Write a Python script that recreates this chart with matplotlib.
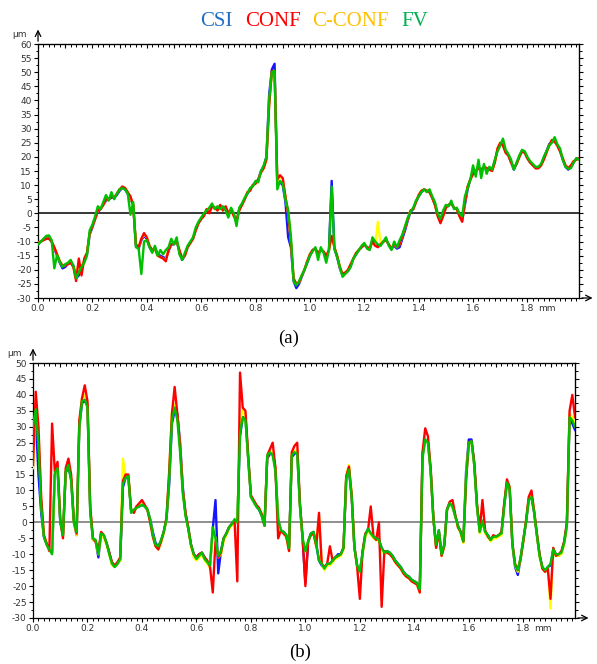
import matplotlib.pyplot as plt
import numpy as np
from matplotlib.ticker import MultipleLocator, FixedLocator, FixedFormatter
from matplotlib.transforms import blended_transform_factory

plt.rcParams['axes.unicode_minus'] = False

# profile positions (mm), one sample every 0.01 mm
x_mm = np.round(np.arange(200) * 0.01, 2)

# ---- profile (a), heights in um ----
a_fv = [-11, -10, -9, -8, -7.8, -9.5, -19.5, -14.8, -17.2, -19,
        -18, -17.5, -16.5, -18.5, -23, -21, -19, -17.5, -15, -6,
        -4, -1, 2.5, 1.5, 4, 6.5, 4.5, 7.5, 5, 7,
        8.5, 9, 8.5, 7, -0.5, 4, -12, -12.5, -21.5, -10,
        -9.5, -12, -14, -11.5, -15, -13, -14.5, -13, -12, -9,
        -11, -8.5, -14.5, -16.5, -14, -11.5, -10, -8.5, -5, -3,
        -1.5, 0, 1, 2, 3.5, 1.5, 2.5, 1.5, 2.5, 1,
        -1.5, 2, 0, -4.5, 2, 3.5, 5.5, 7, 9, 9.5,
        11.5, 11, 15, 17, 20, 40, 50, 50.5, 8.5, 11.5,
        10.5, 5, 1.2, -8, -24, -25.5, -24, -22, -20, -17.5,
        -15, -13.5, -12, -16.5, -12, -14, -17.5, -13, 9.5, -12.5,
        -15.5, -19, -22.5, -21.5, -20.5, -19, -16, -14.5, -13, -11.5,
        -10.5, -12.5, -13, -8.5, -10, -11, -11.5, -10, -8.5, -11.5,
        -13, -10, -12, -9.5, -7.5, -4.5, -1.5, 0.5, 2, 4.5,
        6, 7.5, 8.5, 7.5, 8.5, 6, 4, 0, -2, 1,
        3, 2.5, 4.5, 1.5, 2, 0, -1, 6, 9, 12,
        17, 13, 19, 12.5, 17.5, 14, 16.5, 15.5, 19, 22,
        24, 26.5, 22.5, 21, 19, 15.5, 18, 20.5, 22.5, 22,
        20, 18.5, 17.5, 16.5, 16.5, 17.5, 20, 22, 24, 25,
        27, 24.5, 23, 19, 16.5, 15.8, 16, 18, 19.5, 19]

a_conf = [-10.5, -10, -9.5, -9, -9, -10, -12, -14.5, -17, -18.5,
          -18.5, -18, -17.5, -19, -24, -16, -22, -16, -14, -7,
          -4.5, -2, 1, 1.5, 3, 5, 5, 6, 5.5, 7,
          8.5, 9.5, 9, 7.5, 6, 3, -11, -12, -9, -7,
          -8.5, -11.5, -13, -12.5, -15, -15.5, -16, -17, -13, -11,
          -10.5, -10, -13, -16, -15, -12, -10.5, -9, -6, -3.5,
          -2, -1, 1.5, 0, 2.5, 2, 1, 3, 1, 2.5,
          0, 1.5, -1, -2.5, 1, 3, 5, 7.5, 8, 10,
          10.5, 12, 14.5, 16, 19, 38, 50.5, 50, 12, 13.5,
          12.5, 6, 0, -10, -23, -25, -24.5, -22, -20, -17,
          -14.5, -13, -12.5, -14, -13, -13.5, -15, -13, -8, -12,
          -15, -19, -21.5, -21, -20, -18, -16, -14, -13, -12,
          -11, -12, -12.5, -10, -11.5, -12, -11, -10, -9.5, -11,
          -12.5, -11, -12, -11, -8, -5, -2, 1, 1.5, 4,
          6.5, 8, 8.5, 8, 7.5, 5.5, 3, -1, -3.5, -1,
          2, 3, 3.5, 2, 1.5, -1, -3, 4, 9.5, 12,
          14, 15, 16, 15.5, 16.5, 16, 15.5, 15, 18, 23,
          25, 24, 21.5, 20.5, 18, 16, 17.5, 20, 22, 21.5,
          19.5, 18, 17, 16, 16, 17, 19, 21.5, 24, 26,
          25.5, 24, 22, 19.5, 17, 16, 17, 18.5, 19, 19.5]

a_cconf = [-10.5, -10, -9.5, -9, -9, -10, -12, -14.5, -17, -18.5,
           -18.5, -18, -17.5, -19, -23.5, -17, -21, -16.5, -14, -7,
           -4.5, -2, 1, 1.5, 3, 5, 5, 6, 5.5, 7,
           8.5, 9, 9, 7.5, 5.5, 3, -11, -12, -9, -7.5,
           -8.5, -11.5, -13, -12.5, -15, -15.5, -16, -16.5, -13, -11,
           -10.5, -10, -13, -16, -15, -12, -10.5, -9, -6, -3.5,
           -2, -1, 1.5, 0.5, 2.5, 2, 1, 2.5, 1, 2.5,
           0, 1.5, -1, -2.5, 1, 3, 5, 7.5, 8, 10,
           10.5, 12, 14.5, 16, 19, 39, 50, 50, 11, 13,
           12, 5.5, 0, -10, -23, -25, -24.5, -22, -20, -17,
           -14.5, -13, -12.5, -14, -13, -13.5, -15, -13, -8, -12,
           -15, -19, -21.5, -21, -20, -18, -16, -14, -13, -12,
           -11, -12, -12.5, -10, -11.5, -3, -11, -10, -9.5, -11,
           -12.5, -11, -12, -11, -8, -5, -2, 1, 1.5, 4,
           6.5, 8, 8.5, 8, 7.5, 5.5, 3, -1, -3, -1,
           2, 3, 3.5, 2, 1.5, -1, -2.5, 4, 9.5, 12,
           14, 15, 16, 15.5, 16.5, 16, 15.5, 15, 18, 23,
           25, 24, 21.5, 20.5, 18, 16, 17.5, 20, 22, 21.5,
           19.5, 18, 17, 16, 16, 17, 19, 21.5, 24, 26,
           25.5, 24, 22, 19.5, 17, 16, 17, 18.5, 19, 19.5]

a_csi = [-11, -10, -9.5, -9, -8.5, -10, -12.5, -15, -17.5, -19.5,
         -19, -18, -17.5, -18.5, -23, -22, -19, -17, -14.5, -7.5,
         -5, -2, 0.5, 1.5, 3, 4.5, 5, 5.5, 5.5, 6.5,
         8, 9, 8.5, 7, 5, 3, -11.5, -12.5, -9.5, -8,
         -9, -12, -13.5, -12, -14.5, -15, -15.5, -16, -13.5, -11,
         -11, -10, -13.5, -16.5, -15, -12, -10.5, -9, -6, -3.5,
         -2, -0.5, 1, 1, 2.5, 2, 1.5, 2.5, 1.5, 2,
         0, 1.5, -0.5, -3, 1.5, 3, 5, 7, 8.5, 10,
         11, 12, 15, 16.5, 20, 42, 51, 53, 10, 11,
         10, 4, -8.5, -12, -24, -26.5, -25, -22.5, -20, -17.5,
         -15, -13, -12.5, -14.5, -13, -13.5, -15.5, -13, 11.5, -12.5,
         -15.5, -19.5, -22, -21, -20.5, -18.5, -16, -14.5, -13, -12,
         -11, -12, -12.5, -9.5, -11, -11.5, -11, -10, -9.5, -11,
         -12.5, -11.5, -12.5, -12, -9, -6, -2.5, 0.5, 1.5, 4,
         6, 7.5, 8.5, 8, 7.5, 5.5, 3, -0.5, -3, -0.5,
         2, 3, 3.5, 2, 1.5, -0.5, -2.5, 3, 8.5, 12,
         14, 15, 16, 15.5, 16.5, 16, 15.5, 15.5, 18.5, 22.5,
         24.5, 24.5, 21.5, 20.5, 18, 15.5, 17.5, 20, 22, 21.5,
         19.5, 18, 17, 16, 16, 17, 19.5, 22, 24.5, 25.5,
         25.5, 24, 22, 19, 16.5, 15.5, 16.5, 18, 19.5, 19.5]

# ---- profile (b), heights in um ----
b_fv = [30, 35.5, 24, 5, -4.5, -7, -8.5, -10, 15.5, 17,
        0.5, -4, 16, 18, 13, 0, -3, 30, 38, 38.5,
        36, 3, -5, -5.5, -10, -3.5, -4, -6.5, -10, -13,
        -14, -13, -11.5, 12, 14, 14.5, 3, 4, 4.5, 5,
        5.5, 5, 4, 1, -4, -7, -7.5, -5.5, -3, 1,
        14, 32, 36, 32, 22, 9, 2, -2, -7, -10,
        -11.5, -10.5, -9.5, -11.5, -12.5, -13.5, -1.5, -5, -10.5, -9,
        -5, -3.5, -1.5, -0.5, 1, 0, 28, 33, 32, 20,
        8, 6.5, 5, 4, 2, -1, 21, 22, 21, 16,
        1, -2.5, -3, -4, -8, 21, 22, 21.5, 5, -5,
        -9, -6, -3.5, -3, -7, -12, -13, -14.5, -13, -13,
        -12, -11, -10.5, -10, -8, 14, 16.5, 8, -8, -13.5,
        -15.5, -9.5, -4, -2, -3.5, -4.5, -5, -5.5, -8, -9.5,
        -9, -9.5, -10.5, -12, -13, -14, -15.5, -16.5, -17, -18,
        -18.5, -19, -21, 20, 26, 25, 16, 1, -7, -2.5,
        -10, -7, 4, 6, 5, 2, -1, -3, -6, 14,
        25, 25.5, 18, 5, -3, 0.5, -3, -4, -5.5, -4.5,
        -4.5, -4, -3.5, 5, 12.5, 10.5, -7, -13.5, -15, -11,
        -5.5, 0, 7, 8, 3, -4, -10.5, -14, -15, -14,
        -13, -8.5, -10, -10, -9.5, -6.5, -1, 33, 32, 30]

b_conf = [18, 41, 30, 8, -4, -6.5, -9, 31, 16, 19,
          1, -5, 17, 20, 15, 0.5, -3.5, 32, 39, 43,
          38, 5, -5, -6, -9, -3, -4, -6.5, -9.5, -12.5,
          -13.5, -12.5, -11, 13, 15, 15, 4, 3, 5, 6,
          7, 5.5, 4, 0, -4.5, -7.5, -8.5, -6, -3, 1.5,
          16, 34, 42.5, 34, 24, 10, 3, -1.5, -7, -10,
          -11, -10, -9.5, -11, -12, -14, -22, -6, -11, -9.5,
          -5, -3.5, -1.5, -0.5, 0.5, -18.5, 47, 36, 35, 21,
          8.5, 7, 5.5, 4.5, 2.5, -1, 21, 23, 25, 17,
          -5, -2.5, -3.5, -4.5, -9, 22, 24, 25, 6, -5,
          -20, -6, -4, -3.5, -7.5, 3, -13, -14, -13, -7.5,
          -12, -11, -10.5, -10, -8, 14.5, 17.5, 8.5, -7.5, -14,
          -24, -9, -3.5, -2.5, 5, -4.5, -5.5, 0, -26.5, -9,
          -9.5, -10, -11, -12.5, -13.5, -14.5, -16, -17, -17.5, -18.5,
          -19, -19.5, -22, 22, 29.5, 27, 17, 1.5, -8, -3,
          -10.5, -7.5, 4, 6.5, 7, 2.5, -1.5, -3, -6, 13,
          25, 25.5, 19, 6, -2.5, 7, -2.5, -4.5, -5.5, -4,
          -4.5, -4, -3, 6, 13.5, 11, -6.5, -13, -15, -11.5,
          -6, 0.5, 8, 10, 3.5, -3.5, -10, -14.5, -15.5, -14.5,
          -24, -8, -10.5, -10, -9, -6, 0, 35, 40, 33]

b_cconf = [17, 38, 28, 6, -4, -7, -8.5, -9.5, 15, 17,
           1, -4.5, 16, 19, 14, 0, -4, 31, 39, 40,
           37, 4.5, -5.5, -6, -10, -4, -5, -7, -10, -13.5,
           -14, -13, -12, 20, 14.5, 14.5, 4, 3, 5, 5.5,
           6, 5, 4, 0.5, -4, -7.5, -8.5, -6.5, -3.5, 1,
           15, 35, 37, 33, 24, 10, 2.5, -2, -7.5, -11,
           -12, -11, -10, -12, -13, -14.5, -2, -5, -11, -10,
           -6, -4, -2, -1, 0, 0, 31, 36, 33, 20,
           8, 6.5, 5, 4.5, 2.5, -1, 21, 22.5, 22, 17,
           1, -3, -3.5, -4.5, -9, 21.5, 22.5, 22.5, 5, -5.5,
           -9.5, -6, -4, -3.5, -7.5, 2, -13, -15, -13.5, -13.5,
           -12.5, -11.5, -11, -10.5, -8.5, 15, 18, 9, -8, -14,
           -16, -10, -4.5, -2.5, -4, -5, -5.5, -6, -8.5, -10,
           -9.5, -10, -11, -12.5, -13.5, -14.5, -16, -17, -17.5, -18.5,
           -19, -19.5, -22, 21, 26, 25, 16, 1, -8, -3,
           -10.5, -7.5, 4, 6, 5, 2, -1.5, -3.5, -6.5, 15,
           25, 25, 18, 5, -3.5, 0.5, -3.5, -4.5, -6, -5,
           -5, -4.5, -4, 5.5, 13, 11, -7, -13.5, -15.5, -11.5,
           -6, 0.5, 7.5, 9, 3.5, -4, -11, -14.5, -15.5, -14.5,
           -27, -9, -10.5, -10.5, -10, -7, -1, 34, 33, 31]

b_csi = [28, 33, 15, 3, -4.5, -7, -8.5, -9.5, 15, 16.5,
         0, -4, 15.5, 17.5, 13.5, 0, -4, 30, 37.5, 38,
         37, 4, -5.5, -6, -11, -3.5, -4.5, -6.5, -9.5, -13,
         -14, -13, -12, 11, 14, 14, 4, 3, 5, 5,
         5.5, 5, 4, 1, -3, -6.5, -7.5, -6, -3, 1,
         12, 31, 35, 34, 25, 11, 2.5, -2, -7, -10,
         -11, -10, -9.5, -11, -12.5, -13.5, -2, 7, -16, -9,
         -5, -3.5, -1.5, -0.5, 0.5, 0, 27, 33, 33, 20,
         8, 6.5, 5, 4, 2, -1, 20, 21.5, 22, 17,
         1, -2.5, -3, -4, -8, 20.5, 21.5, 22, 5.5, -5.5,
         -19, -6, -3.5, -3, -7, -12, -13.5, -14.5, -13, -13,
         -12, -11, -10, -10, -8, 14, 16.5, 8, -8, -13.5,
         -15.5, -9.5, -4, -2, -3.5, -4.5, -5, -5.5, -8, -9.5,
         -9, -9.5, -10.5, -12, -13, -14, -15.5, -16.5, -17, -18,
         -18.5, -19, -21, 21, 26, 25, 16, 1, -7.5, -2.5,
         -10, -7, 4, 6, 5, 2, -1, -3, -6, 16,
         26, 26, 18, 5, -3, 0.5, -3, -4, -5.5, -4.5,
         -4.5, -4, -3.5, 5.5, 12, 10.5, -7, -14, -16.5, -11.5,
         -5.5, 0, 7, 8, 3, -4, -10.5, -14, -15.5, -14,
         -13.5, -8.5, -10, -10.5, -9.5, -6.5, -1, 33, 31, 29]

names = ['CSI', 'CONF', 'C-CONF', 'FV']
line_colors = {'CSI': '#1414ff', 'CONF': '#ff0000', 'C-CONF': '#ffff00', 'FV': '#00c000'}
text_colors = ['#1f6fc4', '#ff0000', '#ffc000', '#00b050']


def style_axes(ax, ymin, ymax, zero_color):
    ax.set_xlim(0, 1.99)
    ax.set_ylim(ymin, ymax)
    for s in ax.spines.values():
        s.set_linewidth(0.9)
        s.set_color('black')
    ax.axhline(0, color=zero_color, lw=1.1, zorder=1)

    ax.xaxis.set_major_locator(FixedLocator(np.arange(0, 1.81, 0.2)))
    ax.xaxis.set_major_formatter(FixedFormatter(['%.1f' % v for v in np.arange(0, 1.81, 0.2)]))
    ax.xaxis.set_minor_locator(MultipleLocator(0.02))
    ax.yaxis.set_major_locator(MultipleLocator(5))
    ax.yaxis.set_minor_locator(MultipleLocator(2.5))
    ax.tick_params(which='major', length=3, width=0.8, labelsize=6.5,
                   labelcolor='#333333', pad=1.5, direction='out')
    ax.tick_params(which='minor', length=1.8, width=0.7, direction='out')

    top = ax.secondary_xaxis('top')
    top.xaxis.set_major_locator(MultipleLocator(0.1))
    top.xaxis.set_minor_locator(MultipleLocator(0.02))
    top.tick_params(which='major', direction='in', length=3, width=0.8, labeltop=False)
    top.tick_params(which='minor', direction='in', length=1.8, width=0.7)
    right = ax.secondary_yaxis('right')
    right.yaxis.set_major_locator(MultipleLocator(5))
    right.yaxis.set_minor_locator(MultipleLocator(2.5))
    right.tick_params(which='major', direction='out', length=3, width=0.8, labelright=False)
    right.tick_params(which='minor', direction='out', length=1.8, width=0.7)

    # axis arrows, unit labels
    ax.annotate('', xy=(0, 1.068), xytext=(0, 1), xycoords='axes fraction',
                arrowprops=dict(arrowstyle='->', lw=0.9, color='k'), annotation_clip=False)
    ax.annotate('', xy=(1.03, 0), xytext=(1, 0), xycoords='axes fraction',
                arrowprops=dict(arrowstyle='->', lw=0.9, color='k'), annotation_clip=False)
    ax.annotate('µm', xy=(0, 1), xycoords='axes fraction', xytext=(-19, 10),
                textcoords='offset pixels', ha='center', va='center',
                fontsize=6.5, color='#333333', annotation_clip=False)
    trans = blended_transform_factory(ax.transData, ax.transAxes)
    ax.annotate('mm', xy=(1.838, 0), xycoords=trans, xytext=(0, -4.5),
                textcoords='offset points', ha='left', va='top',
                fontsize=6.5, color='#333333', annotation_clip=False)


fig = plt.figure(figsize=(5.97, 6.64), dpi=100)

ax1 = fig.add_axes([0.0637, 0.5512, 0.9063, 0.3825])
for name, ys in zip(['CSI', 'C-CONF', 'CONF', 'FV'], [a_csi, a_cconf, a_conf, a_fv]):
    ax1.plot(x_mm, ys, color=line_colors[name], lw=1.7, zorder=3)
style_axes(ax1, -30, 60, 'black')

ax2 = fig.add_axes([0.0553, 0.0693, 0.9079, 0.3840])
for name, ys in zip(['CSI', 'C-CONF', 'CONF', 'FV'], [b_csi, b_cconf, b_conf, b_fv]):
    ax2.plot(x_mm, ys, color=line_colors[name], lw=1.7, zorder=3)
style_axes(ax2, -30, 50, '#707070')

# coloured series names above the first panel
word_x = [200, 245, 312, 401]
for name, px, c in zip(names, word_x, text_colors):
    fig.text(px / 597, 1 - 21 / 664, name, color=c, fontsize=15,
             family='Liberation Serif', ha='left', va='center')

fig.text(289 / 597, 1 - 338 / 664, '(a)', fontsize=13.5, family='Liberation Serif',
         ha='center', va='center')
fig.text(300 / 597, 1 - 652 / 664, '(b)', fontsize=13.5, family='Liberation Serif',
         ha='center', va='center')

fig.savefig('out.png', dpi=100)
